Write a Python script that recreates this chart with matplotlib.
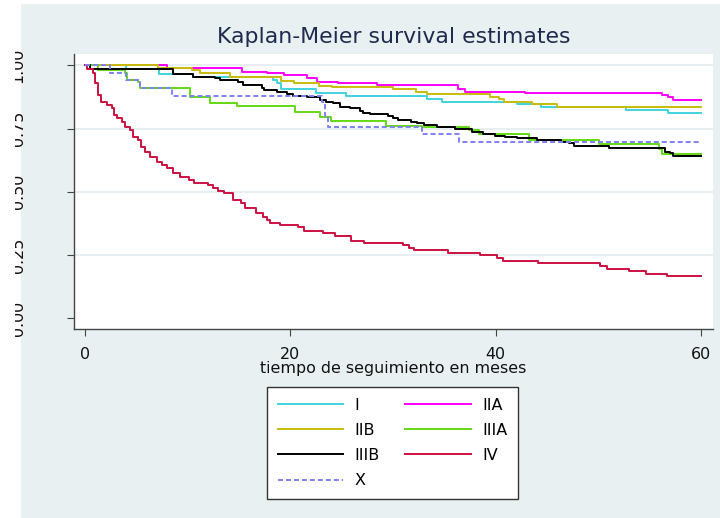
import matplotlib
matplotlib.use("Agg")
import matplotlib.pyplot as plt
from matplotlib.patches import Rectangle

# Kaplan-Meier step estimates by stage (time in months, survival probability)
t_I = [0, 4.0, 7.2, 10.5, 18.3, 18.7, 19.1, 22.5, 25.4, 33.3, 34.8, 42.1, 44.4, 52.7, 56.8, 60]
s_I = [1.0, 0.985, 0.966, 0.953, 0.943, 0.929, 0.905, 0.892, 0.879, 0.866, 0.857, 0.846, 0.834, 0.822, 0.810, 0.810]

t_IIA = [0, 8.0, 15.3, 17.7, 19.4, 21.6, 22.6, 24.6, 28.4, 36.3, 37.0, 42.9, 56.2, 56.8, 57.3, 60]
s_IIA = [1.0, 0.990, 0.975, 0.969, 0.962, 0.949, 0.936, 0.929, 0.923, 0.907, 0.896, 0.890, 0.883, 0.877, 0.863, 0.863]

t_IIB = [0, 7.1, 10.4, 11.2, 14.1, 19.1, 20.4, 22.8, 24.1, 30.0, 32.2, 33.3, 39.5, 40.3, 40.8, 43.5, 46.0, 60]
s_IIB = [1.0, 0.990, 0.984, 0.969, 0.953, 0.940, 0.929, 0.919, 0.914, 0.905, 0.896, 0.887, 0.877, 0.866, 0.857, 0.848, 0.837, 0.837]

t_IIIA = [0, 1.3, 3.9, 4.06, 5.2, 5.36, 10.2, 12.2, 14.8, 20.5, 22.9, 24.0, 29.3, 32.8, 37.4, 38.4, 43.3, 50.1, 55.9, 56.2, 60]
s_IIIA = [1.0, 0.982, 0.969, 0.943, 0.936, 0.910, 0.877, 0.853, 0.840, 0.817, 0.797, 0.782, 0.760, 0.755, 0.745, 0.727, 0.705, 0.689, 0.670, 0.650, 0.650]

t_IIIB = [0, 0.5, 8.6, 10.55, 12.7, 13.2, 14.9, 15.4, 17.2, 17.4, 18.7, 19.7, 20.3, 21.6, 22.9, 23.5, 24.2, 24.8,
          25.8, 26.8, 27.1, 27.8, 29.5, 30.0, 30.5, 31.8, 32.3, 33.0, 34.3, 36.0, 37.7, 38.8, 39.9, 40.9, 42.1,
          44.0, 46.4, 47.2, 47.6, 51.0, 56.5, 57.0, 57.3, 60]
s_IIIB = [1.0, 0.985, 0.966, 0.956, 0.949, 0.943, 0.936, 0.923, 0.910, 0.901, 0.896, 0.887, 0.879, 0.874, 0.863, 0.857,
          0.850, 0.837, 0.830, 0.821, 0.813, 0.807, 0.800, 0.791, 0.784, 0.778, 0.771, 0.764, 0.755, 0.747, 0.738,
          0.729, 0.722, 0.718, 0.712, 0.705, 0.698, 0.692, 0.681, 0.672, 0.659, 0.652, 0.642, 0.642]

t_IV = [0, 0.2, 0.8, 1.0, 1.3, 1.6, 2.1, 2.6, 2.8, 3.1, 3.6, 3.9, 4.4, 4.7, 5.2, 5.5, 5.8, 6.3, 7.0, 7.5, 8.0, 8.6,
        9.3, 10.1, 10.6, 12.0, 12.5, 13.0, 13.5, 14.4, 15.2, 15.6, 16.7, 17.3, 17.7, 18.0, 19.0, 20.8, 21.3, 23.2,
        24.4, 25.9, 27.2, 31.0, 31.6, 32.1, 35.4, 38.5, 40.1, 40.7, 44.1, 50.2, 50.9, 53.0, 54.7, 56.7, 60]
s_IV = [1.0, 0.985, 0.969, 0.930, 0.883, 0.857, 0.844, 0.830, 0.804, 0.791, 0.777, 0.758, 0.745, 0.718, 0.705, 0.678,
        0.659, 0.639, 0.619, 0.606, 0.593, 0.573, 0.560, 0.547, 0.536, 0.527, 0.514, 0.504, 0.494, 0.467, 0.454,
        0.434, 0.417, 0.399, 0.388, 0.377, 0.368, 0.359, 0.346, 0.335, 0.325, 0.306, 0.298, 0.288, 0.278, 0.268,
        0.259, 0.248, 0.238, 0.227, 0.217, 0.206, 0.195, 0.186, 0.175, 0.165, 0.165]

t_X = [0, 2.4, 4.0, 5.4, 8.5, 23.1, 23.4, 23.7, 32.8, 36.4, 60]
s_X = [1.0, 0.969, 0.943, 0.910, 0.879, 0.857, 0.800, 0.758, 0.727, 0.698, 0.698]

y_ticks = [0.0, 0.25, 0.5, 0.75, 1.0]
y_ticklabels = ["0.00", "0.25", "0.50", "0.75", "1.00"]
x_ticks = [0, 20, 40, 60]

plt.rcParams["font.family"] = ["DejaVu Sans"]

fig = plt.figure(figsize=(7.2, 5.18), dpi=100)
fig.patch.set_facecolor("white")
W, H = 720.0, 518.0

# graph region background
fig.add_artist(Rectangle((21 / W, 0), 1 - 21 / W, 514 / H, transform=fig.transFigure,
                         facecolor="#E9F0F2", edgecolor="none", zorder=-10))

ax = fig.add_axes([74 / W, 1 - 329 / H, (713 - 74) / W, (329 - 54) / H])
ax.set_facecolor("white")

series = [
    ("I", t_I, s_I, "#3FD3E0", "-"),
    ("IIA", t_IIA, s_IIA, "#FF00FF", "-"),
    ("IIB", t_IIB, s_IIB, "#C8BC0C", "-"),
    ("IIIA", t_IIIA, s_IIIA, "#62D812", "-"),
    ("IIIB", t_IIIB, s_IIIB, "#000000", "-"),
    ("IV", t_IV, s_IV, "#CC1040", "-"),
    ("X", t_X, s_X, "#8080F8", (0, (2.6, 1.5))),
]
handles = {}
for name, t, s, c, ls in series:
    (ln,) = ax.step(t, s, where="post", color=c, lw=1.4, linestyle=ls, label=name)
    handles[name] = ln

ax.set_xlim(-1.07, 61.18)
ax.set_ylim(-0.0436, 1.0455)

for sp in ["top", "right"]:
    ax.spines[sp].set_visible(False)
for sp in ["left", "bottom"]:
    ax.spines[sp].set_color("#444444")
    ax.spines[sp].set_linewidth(1.0)

ax.set_yticks(y_ticks)
ax.set_yticklabels(y_ticklabels, rotation=90, va="center")
ax.set_xticks(x_ticks)
ax.tick_params(axis="y", direction="out", length=5, width=0.8, color="#444444", pad=29.8,
               labelsize=11.4, labelcolor="#111111")
ax.tick_params(axis="x", direction="out", length=5, width=0.8, color="#444444", pad=8.3,
               labelsize=11.4, labelcolor="#111111")

ax.yaxis.grid(True, color="#E6EEF1", lw=1.3)
ax.set_axisbelow(True)
ax.get_ygridlines()[0].set_visible(False)

ax.set_title("Kaplan-Meier survival estimates", fontsize=15.8, color="#1E2B4E", pad=7.7)
ax.set_xlabel("tiempo de seguimiento en meses", fontsize=11.4, color="#111111")
ax.xaxis.set_label_coords(0.5, -0.117)
ax.xaxis.label.set_va("top")

order = ["I", "IIB", "IIIB", "X", "IIA", "IIIA", "IV"]
leg = fig.legend([handles[k] for k in order], order, ncol=2, loc="upper left",
                 bbox_to_anchor=(267 / W, 1 - 387 / H), bbox_transform=fig.transFigure,
                 fontsize=11.5, frameon=True, fancybox=False, shadow=False,
                 handlelength=4.1, handletextpad=0.72, columnspacing=1.6,
                 labelspacing=0.64, borderpad=0.66, borderaxespad=0)
leg.get_frame().set_edgecolor("#333333")
leg.get_frame().set_linewidth(1.0)
leg.get_frame().set_facecolor("white")
leg.get_frame().set_alpha(1)

# white margin at the left edge
fig.add_artist(Rectangle((0, 0), 15 / W, 1, transform=fig.transFigure,
                         facecolor="white", edgecolor="none", zorder=20))

fig.savefig("out.png", dpi=100)
